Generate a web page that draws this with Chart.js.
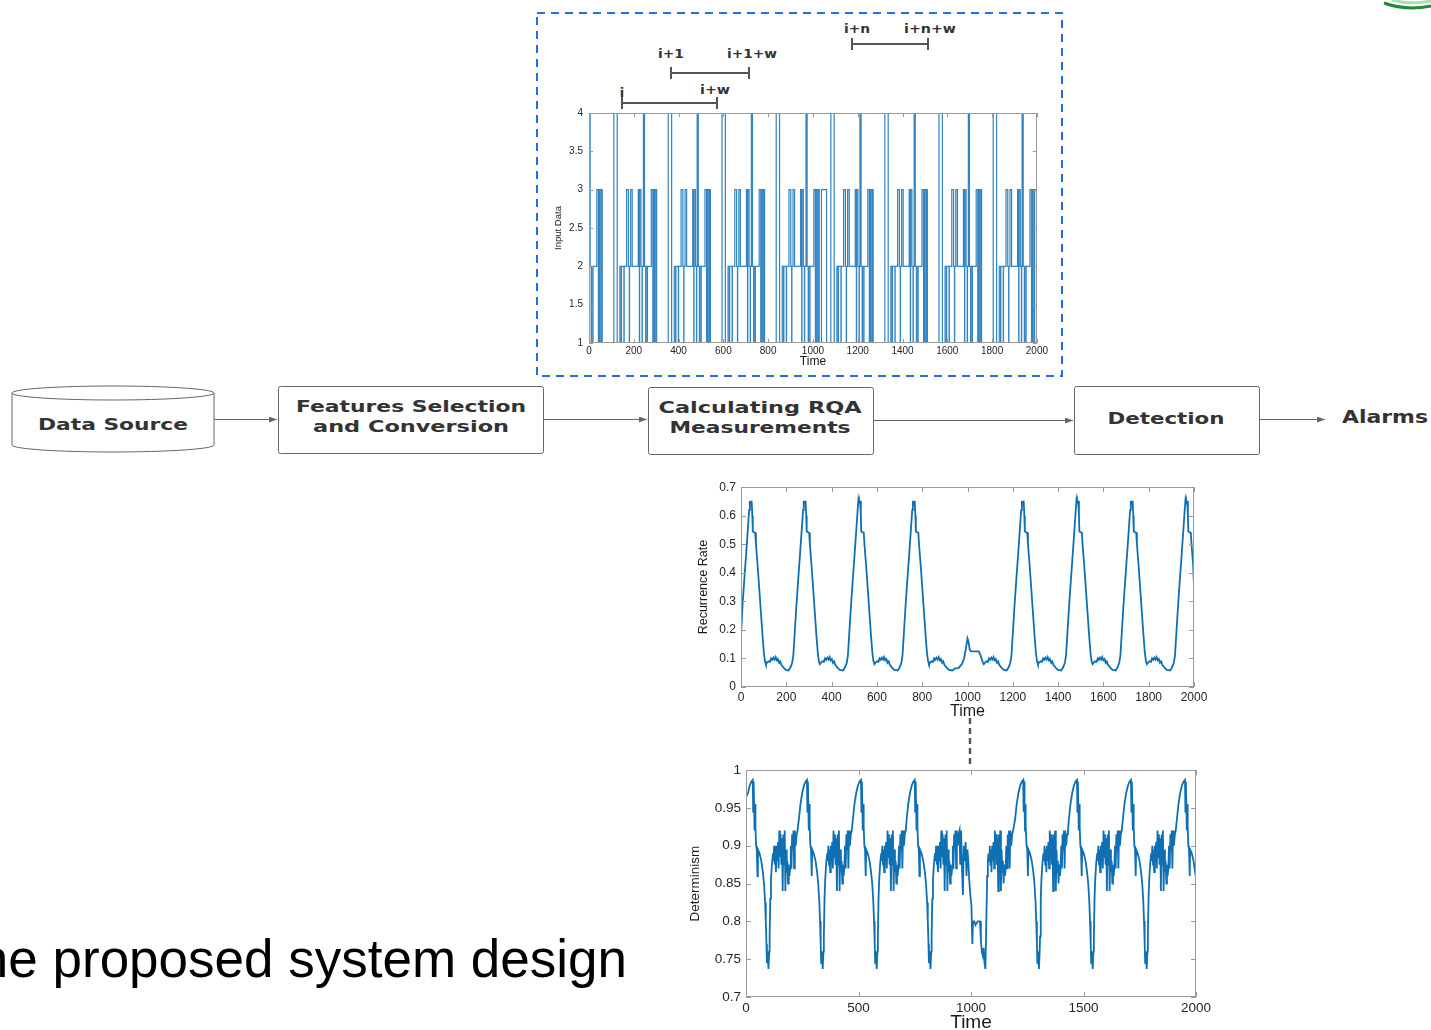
<!DOCTYPE html>
<html>
<head>
<meta charset="utf-8">
<title>Proposed system design</title>
<script src="https://cdn.jsdelivr.net/npm/chart.js@4.4.0/dist/chart.umd.min.js"></script>
<style>
  html, body { margin: 0; padding: 0; background: #fff; }
  #page { position: relative; width: 1431px; height: 1030px; overflow: hidden; background: #fff; }
  #diagram { position: absolute; left: 0; top: 0; }
  canvas { position: absolute; }
  #caption {
    position: absolute; right: 804px; top: 932px;
    font: 53px "Liberation Sans", Arial, sans-serif; line-height: 53px;
    white-space: nowrap; color: #000;
  }
  .box-text { font-family: "DejaVu Sans", sans-serif; font-weight: bold; fill: #333; }
</style>
</head>
<body>
<div id="page">

<svg id="diagram" width="1431" height="1030">
  <defs>
    <marker id="arrow" markerWidth="8" markerHeight="6" refX="8" refY="3" orient="auto" markerUnits="userSpaceOnUse">
      <path d="M0,0 L8,3 L0,6 z" fill="#666"/>
    </marker>
  </defs>

  <!-- logo corner -->
  <path d="M1392,0 Q1410,5 1431,1" fill="none" stroke="#a9e0b4" stroke-width="3"/>
  <path d="M1384,3 Q1406,11 1431,6" fill="none" stroke="#1e8a3c" stroke-width="3"/>

  <!-- dashed frame around the input chart -->
  <rect x="537" y="13" width="525" height="363" fill="none" stroke="#1f6fe5" stroke-width="2" stroke-dasharray="8 6"/>

  <!-- window brackets -->
  <g stroke="#555" stroke-width="2">
    <line x1="622" y1="103" x2="717" y2="103"/>
    <line x1="622" y1="97" x2="622" y2="109"/>
    <line x1="717" y1="97" x2="717" y2="109"/>
    <line x1="671" y1="73" x2="749" y2="73"/>
    <line x1="671" y1="67" x2="671" y2="79"/>
    <line x1="749" y1="67" x2="749" y2="79"/>
    <line x1="852" y1="44" x2="928" y2="44"/>
    <line x1="852" y1="38" x2="852" y2="50"/>
    <line x1="928" y1="38" x2="928" y2="50"/>
  </g>
  <g class="box-text" font-size="13" text-anchor="middle" dominant-baseline="central">
    <text x="622" y="92">i</text>
    <text x="715" y="89" textLength="30" lengthAdjust="spacingAndGlyphs">i+w</text>
    <text x="671" y="53" textLength="26" lengthAdjust="spacingAndGlyphs">i+1</text>
    <text x="752" y="53" textLength="50" lengthAdjust="spacingAndGlyphs">i+1+w</text>
    <text x="857" y="28" textLength="26" lengthAdjust="spacingAndGlyphs">i+n</text>
    <text x="930" y="28" textLength="52" lengthAdjust="spacingAndGlyphs">i+n+w</text>
  </g>

  <!-- flow boxes -->
  <g fill="#fff" stroke="#666" stroke-width="1">
    <path d="M12,393 L12,445 A101,7 0 0 0 214,445 L214,393"/>
    <ellipse cx="113" cy="393" rx="101" ry="7"/>
    <rect x="278.5" y="386.5" width="265" height="67" rx="2"/>
    <rect x="648.5" y="387.5" width="225" height="67" rx="2"/>
    <rect x="1074.5" y="386.5" width="185" height="68" rx="2"/>
  </g>
  <g stroke="#666" stroke-width="1.2">
    <line x1="214" y1="419.5" x2="277" y2="419.5" marker-end="url(#arrow)"/>
    <line x1="544" y1="419.5" x2="647" y2="419.5" marker-end="url(#arrow)"/>
    <line x1="874" y1="420.5" x2="1073" y2="420.5" marker-end="url(#arrow)"/>
    <line x1="1260" y1="419.5" x2="1325" y2="419.5" marker-end="url(#arrow)"/>
  </g>
  <g class="box-text" font-size="16" text-anchor="middle" dominant-baseline="central">
    <text x="113" y="424" textLength="150" lengthAdjust="spacingAndGlyphs">Data Source</text>
    <text x="411" y="406" textLength="230" lengthAdjust="spacingAndGlyphs">Features Selection</text>
    <text x="411" y="426" textLength="196" lengthAdjust="spacingAndGlyphs">and Conversion</text>
    <text x="760" y="407" textLength="203" lengthAdjust="spacingAndGlyphs">Calculating RQA</text>
    <text x="760" y="427" textLength="181" lengthAdjust="spacingAndGlyphs">Measurements</text>
    <text x="1166" y="418" textLength="117" lengthAdjust="spacingAndGlyphs">Detection</text>
    <text x="1385" y="416" font-size="18" textLength="86" lengthAdjust="spacingAndGlyphs">Alarms</text>
  </g>

  <!-- link between the two RQA plots -->
  <line x1="970" y1="718" x2="970" y2="764" stroke="#555" stroke-width="2.5" stroke-dasharray="6 4"/>
</svg>

<canvas id="chart-input" width="510" height="270" style="left:540px;top:100px;width:510px;height:270px"></canvas>
<canvas id="chart-rr" width="525" height="246" style="left:690px;top:475px;width:525px;height:246px"></canvas>
<canvas id="chart-det" width="540" height="280" style="left:680px;top:757px;width:540px;height:280px"></canvas>

<div id="caption">The proposed system design</div>
</div>

<script>
/* =========================
   Dados
========================= */

// Entrada (sinal em degraus): instante em que cada nível começa
const inputTime = [
  0,5,10,11,17,18,35,42,43,48,49,55,56,59,111,126,138,144,145,156,157,168,176,180,181,186,193,220,225,226,232,237,238,
  243,248,253,254,260,261,278,285,286,291,292,298,299,302,354,369,381,387,388,399,400,411,419,423,424,429,436,463,468,469,475,480,481,
  483,488,493,494,500,501,518,525,526,531,532,538,539,542,594,609,621,627,628,639,640,651,659,663,664,669,676,703,708,709,715,720,721,
  725,730,735,736,742,743,760,767,768,773,774,780,781,784,836,851,863,869,870,881,882,893,901,905,906,911,918,945,950,951,957,962,963,
  969,974,979,980,986,987,1004,1011,1012,1017,1018,1024,1025,1028,1038,1061,1080,1095,1107,1113,1114,1125,1126,1137,1145,1149,1150,1155,1162,1189,1194,1195,1201,1206,1207,
  1210,1215,1220,1221,1227,1228,1245,1252,1253,1258,1259,1265,1266,1269,1321,1336,1348,1354,1355,1366,1367,1378,1386,1390,1391,1396,1403,1430,1435,1436,1442,1447,1448,
  1452,1457,1462,1463,1469,1470,1487,1494,1495,1500,1501,1507,1508,1511,1563,1578,1590,1596,1597,1608,1609,1620,1628,1632,1633,1638,1645,1672,1677,1678,1684,1689,1690,
  1694,1699,1704,1705,1711,1712,1729,1736,1737,1742,1743,1749,1750,1753,1805,1820,1832,1838,1839,1850,1851,1862,1870,1874,1875,1880,1887,1914,1919,1920,1926,1931,1932,
  1934,1939,1944,1945,1951,1952,1969,1976,1977,1982,1983,1989,1990,2000
];
const inputLevel = [
  4,2,1,2,1,2,3,1,3,1,3,1,3,1,4,1,2,1,2,1,2,3,2,1,2,3,2,3,1,3,2,1,2,
  4,2,1,2,1,2,3,1,3,1,3,1,3,1,4,1,2,1,2,1,2,3,2,1,2,3,2,3,1,3,2,1,2,
  4,2,1,2,1,2,3,1,3,1,3,1,3,1,4,1,2,1,2,1,2,3,2,1,2,3,2,3,1,3,2,1,2,
  4,2,1,2,1,2,3,1,3,1,3,1,3,1,4,1,2,1,2,1,2,3,2,1,2,3,2,3,1,3,2,1,2,
  4,2,1,2,1,2,3,1,3,1,3,1,3,1,3,1,4,1,2,1,2,1,2,3,2,1,2,3,2,3,1,3,2,1,2,
  4,2,1,2,1,2,3,1,3,1,3,1,3,1,4,1,2,1,2,1,2,3,2,1,2,3,2,3,1,3,2,1,2,
  4,2,1,2,1,2,3,1,3,1,3,1,3,1,4,1,2,1,2,1,2,3,2,1,2,3,2,3,1,3,2,1,2,
  4,2,1,2,1,2,3,1,3,1,3,1,3,1,4,1,2,1,2,1,2,3,2,1,2,3,2,3,1,3,2,1,2,
  4,2,1,2,1,2,3,1,3,1,3,1,3,3
];

// Recurrence Rate
const rrTime = [
  0,7,14,23,30,36,39,41,43,45,47,50,52,63,66,73,81,88,95,101,106,110,115,121,128,133,138,143,148,153,158,163,168,173,178,188,198,
  210,219,226,231,238,245,252,261,268,274,277,279,281,283,285,288,290,301,304,311,319,326,333,339,344,348,353,359,366,371,376,381,386,391,396,401,406,411,416,426,436,
  451,460,467,472,479,486,493,502,509,515,518,520,522,524,526,529,531,542,545,552,560,567,574,580,585,589,594,600,607,612,617,622,627,632,637,642,647,652,657,667,677,
  692,701,708,713,720,727,734,743,750,756,759,761,763,765,767,770,772,783,786,793,801,808,815,821,826,830,835,841,848,853,858,863,868,873,878,883,888,893,898,908,918,
  933,945,960,975,985,992,1000,1004,1010,1015,1050,1058,1066,1072,1077,1083,1090,1095,1100,1105,1110,1115,1120,1125,1130,1135,1140,1150,1160,
  1173,1182,1189,1194,1201,1208,1215,1224,1231,1237,1240,1242,1244,1246,1248,1251,1253,1264,1267,1274,1282,1289,1296,1302,1307,1311,1316,1322,1329,1334,1339,1344,1349,1354,1359,1364,1369,1374,1379,1389,1399,
  1414,1423,1430,1435,1442,1449,1456,1465,1472,1478,1481,1483,1485,1487,1489,1492,1494,1505,1508,1515,1523,1530,1537,1543,1548,1552,1557,1563,1570,1575,1580,1585,1590,1595,1600,1605,1610,1615,1620,1630,1640,
  1654,1663,1670,1675,1682,1689,1696,1705,1712,1718,1721,1723,1725,1727,1729,1732,1734,1745,1748,1755,1763,1770,1777,1783,1788,1792,1797,1803,1810,1815,1820,1825,1830,1835,1840,1845,1850,1855,1860,1870,1880,
  1895,1904,1911,1916,1923,1930,1937,1946,1953,1959,1962,1964,1966,1968,1970,1973,1975,1986,1989,1996,2000
];
const rrValue = [
  0.18,0.29,0.37,0.47,0.55,0.62,0.652,0.64,0.652,0.64,0.652,0.6,0.545,0.54,0.5,0.43,0.34,0.26,0.18,0.12,0.09,0.08,0.085,0.09,0.088,0.1,0.095,0.103,0.096,0.105,0.093,0.098,0.085,0.09,0.078,0.068,0.06,
  0.058,0.07,0.085,0.11,0.2,0.29,0.37,0.47,0.55,0.62,0.652,0.64,0.652,0.64,0.652,0.6,0.545,0.54,0.5,0.43,0.34,0.26,0.18,0.12,0.09,0.08,0.085,0.09,0.088,0.1,0.095,0.103,0.096,0.105,0.093,0.098,0.085,0.09,0.078,0.068,0.06,
  0.058,0.07,0.085,0.11,0.2,0.29,0.37,0.47,0.55,0.62,0.652,0.64,0.652,0.64,0.652,0.6,0.545,0.54,0.5,0.43,0.34,0.26,0.18,0.12,0.09,0.08,0.085,0.09,0.088,0.1,0.095,0.103,0.096,0.105,0.093,0.098,0.085,0.09,0.078,0.068,0.06,
  0.058,0.07,0.085,0.11,0.2,0.29,0.37,0.47,0.55,0.62,0.652,0.64,0.652,0.64,0.652,0.6,0.545,0.54,0.5,0.43,0.34,0.26,0.18,0.12,0.09,0.08,0.085,0.09,0.088,0.1,0.095,0.103,0.096,0.105,0.093,0.098,0.085,0.09,0.078,0.068,0.06,
  0.058,0.065,0.066,0.08,0.1,0.13,0.17,0.16,0.13,0.125,0.125,0.11,0.09,0.08,0.085,0.09,0.088,0.1,0.095,0.103,0.096,0.105,0.093,0.098,0.085,0.09,0.078,0.068,0.06,
  0.058,0.07,0.085,0.11,0.2,0.29,0.37,0.47,0.55,0.62,0.652,0.64,0.652,0.64,0.652,0.6,0.545,0.54,0.5,0.43,0.34,0.26,0.18,0.12,0.09,0.08,0.085,0.09,0.088,0.1,0.095,0.103,0.096,0.105,0.093,0.098,0.085,0.09,0.078,0.068,0.06,
  0.058,0.07,0.085,0.11,0.2,0.29,0.37,0.47,0.55,0.62,0.652,0.64,0.652,0.64,0.652,0.6,0.545,0.54,0.5,0.43,0.34,0.26,0.18,0.12,0.09,0.08,0.085,0.09,0.088,0.1,0.095,0.103,0.096,0.105,0.093,0.098,0.085,0.09,0.078,0.068,0.06,
  0.058,0.07,0.085,0.11,0.2,0.29,0.37,0.47,0.55,0.62,0.652,0.64,0.652,0.64,0.652,0.6,0.545,0.54,0.5,0.43,0.34,0.26,0.18,0.12,0.09,0.08,0.085,0.09,0.088,0.1,0.095,0.103,0.096,0.105,0.093,0.098,0.085,0.09,0.078,0.068,0.06,
  0.058,0.07,0.085,0.11,0.2,0.29,0.37,0.47,0.55,0.62,0.652,0.64,0.652,0.64,0.652,0.6,0.545,0.54,0.5,0.43,0.35
];

// Determinism
const detTime = [
  0,9,17,24,30,32,34,36,38,40,42,45,48,51,53,60,68,75,80,85,88,91,93,95,97,100,103,105,108,111,115,
  120,122,125,128,130,133,136,139,142,145,148,151,154,157,160,163,166,169,172,175,178,181,184,187,190,193,196,199,202,205,208,211,214,217,221,225,229,
  235,242,250,258,265,271,
  273,275,277,279,281,283,286,289,292,294,301,309,316,321,326,329,332,334,336,338,341,344,346,349,352,356,
  361,363,366,369,371,374,377,380,383,386,389,392,395,398,401,404,407,410,413,416,419,422,425,428,431,434,437,440,443,446,449,452,455,458,462,466,470,
  475,482,490,498,505,511,
  513,515,517,519,521,523,526,529,532,534,541,549,556,561,566,569,572,574,576,578,581,584,586,589,592,596,
  601,603,606,609,611,614,617,620,623,626,629,632,635,638,641,644,647,650,653,656,659,662,665,668,671,674,677,680,683,686,689,692,695,698,702,706,710,
  714,721,729,737,744,750,
  752,754,756,758,760,762,765,768,771,773,780,788,795,800,805,808,811,813,815,817,820,823,825,828,831,835,
  840,842,845,848,850,853,856,859,862,865,868,871,874,877,880,883,886,889,892,895,898,901,904,907,910,913,916,919,922,925,928,931,934,937,941,945,949,
  952,956,960,964,968,972,976,980,984,988,992,997,1002,1006,1009,1015,1020,1030,1040,1044,1048,1052,1056,1060,1064,1068,1072,1075,
  1078,1080,1083,1086,1088,1091,1094,1097,1100,1103,1106,1109,1112,1115,1118,1121,1124,1127,1130,1133,1136,1139,1142,1145,1148,1151,1154,1157,1160,1163,1166,1169,1172,1175,1179,1183,1187,
  1196,1203,1211,1219,1226,1232,
  1234,1236,1238,1240,1242,1244,1247,1250,1253,1255,1262,1270,1277,1282,1287,1290,1293,1295,1297,1299,1302,1305,1307,1310,1313,1317,
  1322,1324,1327,1330,1332,1335,1338,1341,1344,1347,1350,1353,1356,1359,1362,1365,1368,1371,1374,1377,1380,1383,1386,1389,1392,1395,1398,1401,1404,1407,1410,1413,1416,1419,1423,1427,1431,
  1435,1442,1450,1458,1465,1471,
  1473,1475,1477,1479,1481,1483,1486,1489,1492,1494,1501,1509,1516,1521,1526,1529,1532,1534,1536,1538,1541,1544,1546,1549,1552,1556,
  1561,1563,1566,1569,1571,1574,1577,1580,1583,1586,1589,1592,1595,1598,1601,1604,1607,1610,1613,1616,1619,1622,1625,1628,1631,1634,1637,1640,1643,1646,1649,1652,1655,1658,1662,1666,1670,
  1675,1682,1690,1698,1705,1711,
  1713,1715,1717,1719,1721,1723,1726,1729,1732,1734,1741,1749,1756,1761,1766,1769,1772,1774,1776,1778,1781,1784,1786,1789,1792,1796,
  1801,1803,1806,1809,1811,1814,1817,1820,1823,1826,1829,1832,1835,1838,1841,1844,1847,1850,1853,1856,1859,1862,1865,1868,1871,1874,1877,1880,1883,1886,1889,1892,1895,1898,1902,1906,1910,
  1915,1922,1930,1938,1945,1951,
  1953,1955,1957,1959,1961,1963,1966,1969,1972,1974,1981,1989,1996,2000
];
const detValue = [
  0.964,0.97,0.98,0.985,0.987,0.945,0.985,0.955,0.92,0.955,0.925,0.9,0.895,0.86,0.895,0.89,0.88,0.865,0.85,0.825,0.8,0.77,0.745,0.76,0.75,0.737,0.76,0.78,0.83,0.855,0.875,
  0.89,0.88,0.9,0.875,0.895,0.865,0.9,0.88,0.905,0.87,0.92,0.885,0.915,0.875,0.91,0.84,0.915,0.875,0.92,0.84,0.895,0.865,0.88,0.85,0.875,0.86,0.87,0.9,0.87,0.915,0.895,0.92,0.87,0.92,0.9,0.915,0.92,
  0.935,0.955,0.97,0.98,0.985,0.987,
  0.945,0.985,0.955,0.92,0.955,0.925,0.9,0.895,0.86,0.895,0.89,0.88,0.865,0.85,0.825,0.8,0.77,0.745,0.76,0.75,0.737,0.76,0.78,0.83,0.855,0.875,
  0.89,0.88,0.9,0.875,0.895,0.865,0.9,0.88,0.905,0.87,0.92,0.885,0.915,0.875,0.91,0.84,0.915,0.875,0.92,0.84,0.895,0.865,0.88,0.85,0.875,0.86,0.87,0.9,0.87,0.915,0.895,0.92,0.87,0.92,0.9,0.915,0.92,
  0.935,0.955,0.97,0.98,0.985,0.987,
  0.945,0.985,0.955,0.92,0.955,0.925,0.9,0.895,0.86,0.895,0.89,0.88,0.865,0.85,0.825,0.8,0.77,0.745,0.76,0.75,0.737,0.76,0.78,0.83,0.855,0.875,
  0.89,0.88,0.9,0.875,0.895,0.865,0.9,0.88,0.905,0.87,0.92,0.885,0.915,0.875,0.91,0.84,0.915,0.875,0.92,0.84,0.895,0.865,0.88,0.85,0.875,0.86,0.87,0.9,0.87,0.915,0.895,0.92,0.87,0.92,0.9,0.915,0.92,
  0.935,0.955,0.97,0.98,0.985,0.987,
  0.945,0.985,0.955,0.92,0.955,0.925,0.9,0.895,0.86,0.895,0.89,0.88,0.865,0.85,0.825,0.8,0.77,0.745,0.76,0.75,0.737,0.76,0.78,0.83,0.855,0.875,
  0.89,0.88,0.9,0.875,0.895,0.865,0.9,0.88,0.905,0.87,0.92,0.885,0.915,0.875,0.91,0.84,0.915,0.875,0.92,0.84,0.895,0.865,0.88,0.85,0.875,0.86,0.87,0.9,0.87,0.915,0.895,0.92,0.87,0.92,0.9,0.915,0.92,
  0.875,0.92,0.87,0.835,0.9,0.88,0.905,0.86,0.895,0.88,0.855,0.835,0.82,0.77,0.8,0.8,0.795,0.8,0.8,0.775,0.76,0.755,0.765,0.745,0.737,0.8,0.86,0.88,
  0.89,0.88,0.9,0.875,0.895,0.865,0.9,0.88,0.905,0.87,0.92,0.885,0.915,0.875,0.91,0.84,0.915,0.875,0.92,0.84,0.895,0.865,0.88,0.85,0.875,0.86,0.87,0.9,0.87,0.915,0.895,0.92,0.87,0.92,0.9,0.915,0.92,
  0.935,0.955,0.97,0.98,0.985,0.987,
  0.945,0.985,0.955,0.92,0.955,0.925,0.9,0.895,0.86,0.895,0.89,0.88,0.865,0.85,0.825,0.8,0.77,0.745,0.76,0.75,0.737,0.76,0.78,0.83,0.855,0.875,
  0.89,0.88,0.9,0.875,0.895,0.865,0.9,0.88,0.905,0.87,0.92,0.885,0.915,0.875,0.91,0.84,0.915,0.875,0.92,0.84,0.895,0.865,0.88,0.85,0.875,0.86,0.87,0.9,0.87,0.915,0.895,0.92,0.87,0.92,0.9,0.915,0.92,
  0.935,0.955,0.97,0.98,0.985,0.987,
  0.945,0.985,0.955,0.92,0.955,0.925,0.9,0.895,0.86,0.895,0.89,0.88,0.865,0.85,0.825,0.8,0.77,0.745,0.76,0.75,0.737,0.76,0.78,0.83,0.855,0.875,
  0.89,0.88,0.9,0.875,0.895,0.865,0.9,0.88,0.905,0.87,0.92,0.885,0.915,0.875,0.91,0.84,0.915,0.875,0.92,0.84,0.895,0.865,0.88,0.85,0.875,0.86,0.87,0.9,0.87,0.915,0.895,0.92,0.87,0.92,0.9,0.915,0.92,
  0.935,0.955,0.97,0.98,0.985,0.987,
  0.945,0.985,0.955,0.92,0.955,0.925,0.9,0.895,0.86,0.895,0.89,0.88,0.865,0.85,0.825,0.8,0.77,0.745,0.76,0.75,0.737,0.76,0.78,0.83,0.855,0.875,
  0.89,0.88,0.9,0.875,0.895,0.865,0.9,0.88,0.905,0.87,0.92,0.885,0.915,0.875,0.91,0.84,0.915,0.875,0.92,0.84,0.895,0.865,0.88,0.85,0.875,0.86,0.87,0.9,0.87,0.915,0.895,0.92,0.87,0.92,0.9,0.915,0.92,
  0.935,0.955,0.97,0.98,0.985,0.987,
  0.945,0.985,0.955,0.92,0.955,0.925,0.9,0.895,0.86,0.895,0.89,0.88,0.865,0.858
];

// Ticks
const ticksX200 = [0, 200, 400, 600, 800, 1000, 1200, 1400, 1600, 1800, 2000];
const ticksX500 = [0, 500, 1000, 1500, 2000];
const ticksInput = [1, 1.5, 2, 2.5, 3, 3.5, 4];
const ticksRR = [0, 0.1, 0.2, 0.3, 0.4, 0.5, 0.6, 0.7];
const ticksDet = [0.7, 0.75, 0.8, 0.85, 0.9, 0.95, 1];

/* =========================
   Caixa estilo MATLAB
========================= */
const matlabAxes = {
  id: 'matlabAxes',
  afterDatasetsDraw(chart, args, opts) {
    const { ctx, chartArea: a, scales: { x, y } } = chart;
    const len = opts.tick || 4;
    ctx.save();
    ctx.strokeStyle = '#9a9a9a';
    ctx.lineWidth = 1;
    ctx.strokeRect(Math.round(a.left) + 0.5, Math.round(a.top) + 0.5,
      Math.round(a.right - a.left) - 1, Math.round(a.bottom - a.top) - 1);
    ctx.beginPath();
    x.ticks.forEach((t, i) => {
      const px = Math.round(x.getPixelForTick(i)) + 0.5;
      ctx.moveTo(px, a.bottom); ctx.lineTo(px, a.bottom - len);
      ctx.moveTo(px, a.top); ctx.lineTo(px, a.top + len);
    });
    y.ticks.forEach((t, i) => {
      const py = Math.round(y.getPixelForTick(i)) + 0.5;
      ctx.moveTo(a.left, py); ctx.lineTo(a.left + len, py);
      ctx.moveTo(a.right, py); ctx.lineTo(a.right - len, py);
    });
    ctx.stroke();
    ctx.restore();
  }
};

const FONT = '"Liberation Sans", Arial, sans-serif';

function criarGrafico(id, c) {
  const pontos = c.t.map((t, i) => ({ x: t, y: c.v[i] }));
  return new Chart(document.getElementById(id), {
    type: 'line',
    data: {
      datasets: [{
        data: pontos,
        borderColor: c.color,
        borderWidth: c.lineWidth,
        pointRadius: 0,
        tension: 0,
        stepped: c.stepped || false,
        fill: false
      }]
    },
    options: {
      responsive: false,
      animation: false,
      devicePixelRatio: 1,
      layout: { padding: c.padding },
      plugins: {
        legend: { display: false },
        tooltip: { enabled: false },
        matlabAxes: { tick: c.tickLen }
      },
      scales: {
        x: {
          type: 'linear',
          min: c.xTicks[0],
          max: c.xTicks[c.xTicks.length - 1],
          afterBuildTicks: s => { s.ticks = c.xTicks.map(v => ({ value: v })); },
          afterFit: s => { s.height = c.xAxisH; },
          grid: { display: false, drawTicks: false },
          border: { display: false },
          ticks: {
            color: '#262626', padding: c.xPad, maxRotation: 0, autoSkip: false,
            font: { family: FONT, size: c.tickFont },
            callback: v => String(v)
          },
          title: {
            display: true, text: 'Time', color: '#1a1a1a',
            font: { family: FONT, size: c.xTitleFont },
            padding: { top: 0, bottom: c.xTitlePad }
          }
        },
        y: {
          type: 'linear',
          min: c.yTicks[0],
          max: c.yTicks[c.yTicks.length - 1],
          afterBuildTicks: s => { s.ticks = c.yTicks.map(v => ({ value: v })); },
          afterFit: s => { s.width = c.yAxisW; },
          grid: { display: false, drawTicks: false },
          border: { display: false },
          ticks: {
            color: '#262626', padding: c.yPad, autoSkip: false,
            font: { family: FONT, size: c.tickFont },
            callback: v => String(v)
          },
          title: {
            display: true, text: c.yTitle, color: '#1a1a1a',
            font: { family: FONT, size: c.yTitleFont },
            padding: { top: c.yTitlePad, bottom: 0 }
          }
        }
      }
    },
    plugins: [matlabAxes]
  });
}

criarGrafico('chart-input', {
  t: inputTime, v: inputLevel, stepped: true,
  color: '#3384c0', lineWidth: 1.2,
  xTicks: ticksX200, yTicks: ticksInput,
  padding: { left: 0, top: 13, right: 13, bottom: 0 },
  yAxisW: 49, xAxisH: 27, tickLen: 4,
  tickFont: 10, xPad: 2, yPad: 6,
  xTitleFont: 12, xTitlePad: 1,
  yTitle: 'Input Data', yTitleFont: 9.5, yTitlePad: 13
});

criarGrafico('chart-rr', {
  t: rrTime, v: rrValue,
  color: '#0f6fb3', lineWidth: 1.8,
  xTicks: ticksX200, yTicks: ticksRR,
  padding: { left: 0, top: 10, right: 21, bottom: 0 },
  yAxisW: 51, xAxisH: 34, tickLen: 5,
  tickFont: 12, xPad: 3, yPad: 5,
  xTitleFont: 16, xTitlePad: 0,
  yTitle: 'Recurrence Rate', yTitleFont: 12.5, yTitlePad: 6.5
});

criarGrafico('chart-det', {
  t: detTime, v: detValue,
  color: '#0f6fb3', lineWidth: 1.8,
  xTicks: ticksX500, yTicks: ticksDet,
  padding: { left: 0, top: 10, right: 24, bottom: 0 },
  yAxisW: 66, xAxisH: 40, tickLen: 5,
  tickFont: 13.5, xPad: 3, yPad: 5,
  xTitleFont: 19, xTitlePad: 3,
  yTitle: 'Determinism', yTitleFont: 13.5, yTitlePad: 7
});
</script>
</body>
</html>
